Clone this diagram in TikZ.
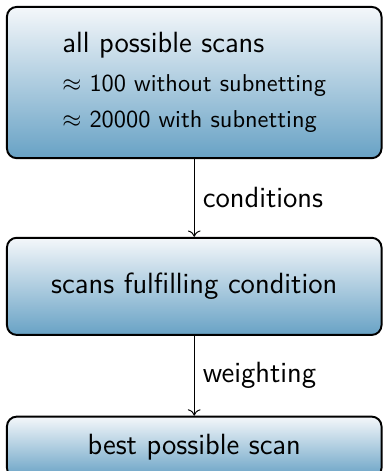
\documentclass[tikz,border=0pt]{standalone}
\usepackage{amsmath, amssymb}
\usepackage{tikz}
\usetikzlibrary{shapes, arrows, calc, positioning}
\usetikzlibrary{arrows.meta}

\definecolor{boxtop}{RGB}{244,247,250}
\definecolor{boxbottom}{RGB}{104,162,197}

\begin{document}
\begin{tikzpicture}[
      node distance=1.13cm,
      every node/.style={font=\sffamily\large},
      stage/.style={rectangle, draw, thick, rounded corners, top color=boxtop, bottom color=boxbottom, minimum width=5.40cm},
      flow/.style={draw, -{To[length=2.6pt, width=5.2pt]}}
    ]
    % fixed frame, the right and lower edge cut the boxes
    \useasboundingbox (0,0) rectangle (5.52,-6.79);

    % the three stages
    \node[stage, minimum height=2.18cm, align=left] (allscans) at (2.80,-1.19) {all possible scans\\[2pt]
      {\normalsize $\approx$ 100 without subnetting}\\[1pt]
      {\normalsize $\approx$ 20000 with subnetting}};
    \node[stage, minimum height=1.40cm, below=1.12cm of allscans] (fulfilling) {scans fulfilling condition};
    \node[stage, minimum height=0.88cm, below=1.15cm of fulfilling] (bestscan) {best possible scan};

    % connectors
    \draw[flow] (allscans) -- node[right] {conditions} (fulfilling);
    \draw[flow] (fulfilling) -- node[right] {weighting} (bestscan);

\end{tikzpicture}
\end{document}
